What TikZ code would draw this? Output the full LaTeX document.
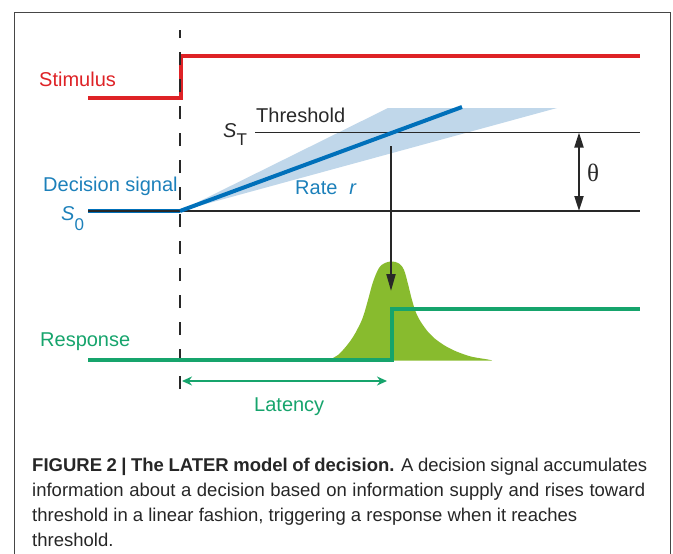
\documentclass[tikz,border=0pt]{standalone}
\usepackage{fontspec}
\setmainfont{Liberation Sans}
\newfontfamily\capfont{Liberation Sans}
\newfontfamily\thetafont{Liberation Serif}
\usetikzlibrary{arrows.meta}
\definecolor{stimred}{RGB}{222,34,38}
\definecolor{decblue}{RGB}{0,112,186}
\definecolor{dectext}{RGB}{28,128,186}
\definecolor{conec}{RGB}{192,215,234}
\definecolor{respgreen}{RGB}{22,164,108}
\definecolor{bellgreen}{RGB}{136,187,46}
\definecolor{framec}{RGB}{70,70,70}
\definecolor{linec}{RGB}{40,40,40}
\tikzset{
  lbl/.style={inner sep=0pt, anchor=base west, font=\fontsize{20}{24}\selectfont},
  thickline/.style={line width=4pt},
  thinline/.style={line width=1.3pt, draw=linec},
  blackarrow/.style={line width=2pt, draw=linec, -{Triangle[length=17pt,width=9pt]}},
  thetaarrow/.style={line width=2pt, draw=linec, {Triangle[length=15pt,width=9pt]}-{Triangle[length=15pt,width=9pt]}},
  latarrow/.style={line width=1.5pt, draw=respgreen, {Stealth[length=10pt,width=9pt]}-{Stealth[length=10pt,width=9pt]}},
  capline/.style={inner sep=0pt, anchor=base west, font=\capfont\fontsize{18.5}{25}\selectfont, text=black!85}
}
\begin{document}
\begin{tikzpicture}[x=1pt,y=-1pt]
\useasboundingbox (0,0) rectangle (673,554);
% frame
\draw[framec, line width=1pt] (14,554) -- (14,12) -- (670,12) -- (670,554);

% key points
\coordinate (t0) at (180,211);
\coordinate (conetl) at (388,108);
\coordinate (conetr) at (557,108);
\coordinate (rampend) at (462,107);
\coordinate (thL) at (255,132.5);
\coordinate (thR) at (640,132.5);
\coordinate (s0L) at (88,211);
\coordinate (s0R) at (640,211);
\coordinate (stA) at (88,98);
\coordinate (stB) at (181,98);
\coordinate (stC) at (181,56);
\coordinate (stD) at (640,56);
\coordinate (dashB) at (180,389);
\coordinate (dashT) at (180,30);
\coordinate (rsA) at (88,360);
\coordinate (rsB) at (392,360);
\coordinate (rsC) at (392,309);
\coordinate (rsD) at (640,309);
\coordinate (dnA) at (391,146);
\coordinate (dnB) at (391,291);
\coordinate (thA) at (579,132.5);
\coordinate (thB) at (579,211);
\coordinate (latA) at (182,381);
\coordinate (latB) at (387,381);

% cone of rates
\fill[conec] (t0) -- (conetl) -- (conetr) -- cycle;

% threshold and start level
\draw[thickline, decblue] (s0L) -- (t0);
\draw[thinline] (thL) -- (thR);
\draw[thinline] (s0L) -- (s0R);

% rising decision signal
\draw[thickline, decblue] (t0) -- (rampend);

% stimulus
\draw[thickline, stimred, line join=miter] (stA) -- (stB) -- (stC) -- (stD);

% dashed onset line
\draw[linec, line width=2pt, dash pattern=on 13pt off 14pt] (dashB) -- (dashT);

% latency distribution
\fill[bellgreen] plot[smooth, tension=0.6] coordinates {
 (326,360.5) (333,358) (338,355) (343,350) (348,344) (353,337) (358,328) (363,317)
 (368,300) (373,282) (379,268) (385,263) (392,261.5) (399,263.5) (404,270) (408,284)
 (412,300) (417,315) (425,328) (433,337) (443,344.5) (453,350) (463,354) (473,357)
 (488,359.5) (492,360.5)} -- cycle;

% response
\draw[thickline, respgreen, line join=miter] (rsA) -- (rsB) -- (rsC) -- (rsD);

% arrows
\draw[blackarrow] (dnA) -- (dnB);
\draw[thetaarrow] (thA) -- (thB);
\draw[latarrow] (latA) -- (latB);

% labels
\node[lbl, text=stimred] (stimlbl) at (39,86) {Stimulus};
\node[lbl, text=dectext] (declbl) at (43,191) {Decision signal};
\node[lbl, text=dectext] (s0lbl) at (61,220) {\textit{S}\raisebox{-10pt}{\fontsize{17}{20}\selectfont 0}};
\node[lbl, text=linec] (stlbl) at (223,137) {\textit{S}\raisebox{-8pt}{\fontsize{17}{20}\selectfont T}};
\node[lbl, text=linec] (thrlbl) at (256,122) {Threshold};
\node[lbl, text=dectext] (ratelbl) at (295,194) {Rate\hspace{12pt}\textit{r}};
\node[inner sep=0pt, text=linec, font=\thetafont\fontsize{25}{28}\selectfont] (thetalbl) at (593,173) {θ};
\node[lbl, text=respgreen] (resplbl) at (40,346) {Response};
\node[lbl, text=respgreen] (latlbl) at (254,411) {Latency};

% caption
\node[capline] (cap1) at (32,471) {\makebox[615pt][s]{\textbf{FIGURE 2 | The LATER model of decision.} A decision signal accumulates}};
\node[capline] (cap2) at (32,496) {\makebox[613pt][s]{information about a decision based on information supply and rises toward}};
\node[capline] (cap3) at (32,521) {threshold in a linear fashion, triggering a response when it reaches};
\node[capline] (cap4) at (32,546) {threshold.};
\end{tikzpicture}
\end{document}
